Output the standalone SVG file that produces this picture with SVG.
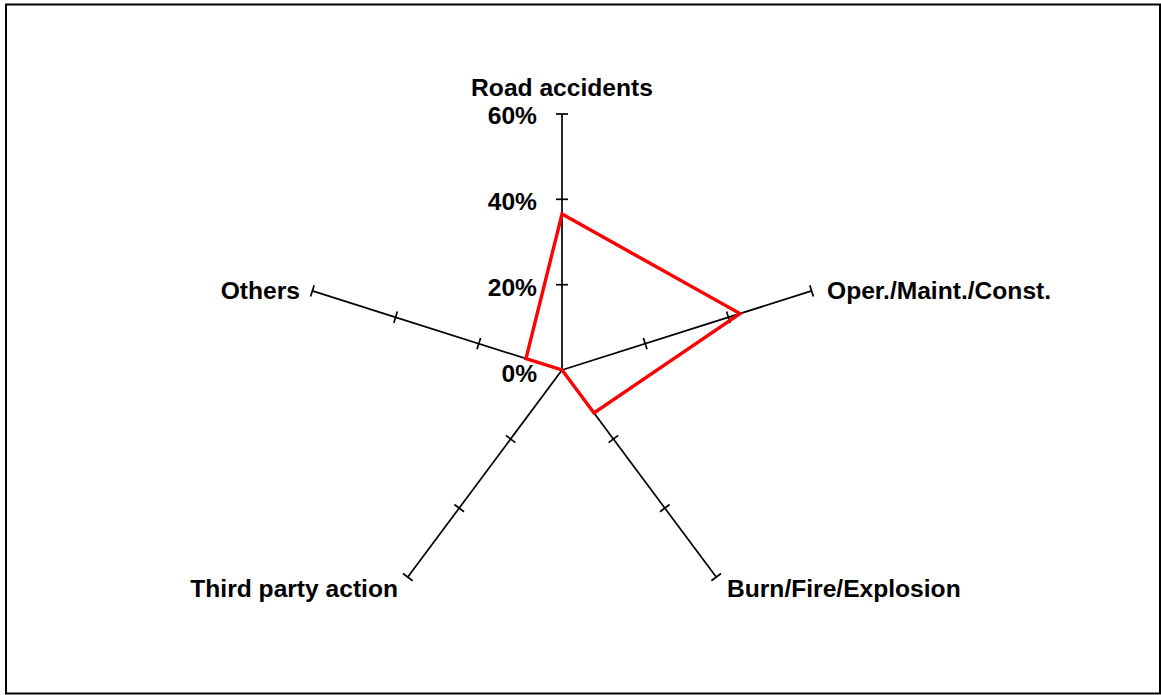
<svg xmlns="http://www.w3.org/2000/svg" width="1161" height="695" viewBox="0 0 1161 695">
<style>
.ax{stroke:#000;stroke-width:1.7;fill:none}
.lbl{font-family:"Liberation Sans",Arial,sans-serif;font-weight:bold;font-size:24.6px;fill:#000}
.pct{font-family:"Liberation Sans",Arial,sans-serif;font-weight:bold;font-size:24.6px;fill:#000;text-anchor:end}
</style>
<rect x="0" y="0" width="1161" height="695" fill="#fff"/>
<rect x="6" y="4.5" width="1154" height="689" fill="none" stroke="#000" stroke-width="2"/>
<g id="connectors">
  <g id="axes" class="ax">
    <line x1="562" y1="370" x2="562" y2="114"/>
    <line x1="556" y1="114" x2="568" y2="114"/>
    <line x1="556" y1="199.3" x2="568" y2="199.3"/>
    <line x1="556" y1="284.7" x2="568" y2="284.7"/>
    <line x1="562" y1="370" x2="811.6" y2="290.9"/>
    <line x1="643.4" y1="337.9" x2="647" y2="349.3"/>
    <line x1="726.6" y1="311.6" x2="730.2" y2="323"/>
    <line x1="809.8" y1="285.2" x2="813.4" y2="296.6"/>
    <line x1="562" y1="370" x2="312.4" y2="290.9"/>
    <line x1="480.6" y1="337.9" x2="477" y2="349.3"/>
    <line x1="397.4" y1="311.6" x2="393.8" y2="323"/>
    <line x1="314.2" y1="285.2" x2="310.6" y2="296.6"/>
    <line x1="562" y1="370" x2="716.2" y2="577.1"/>
    <line x1="608.6" y1="442.6" x2="618.2" y2="435.4"/>
    <line x1="660" y1="511.7" x2="669.6" y2="504.5"/>
    <line x1="711.4" y1="580.7" x2="721" y2="573.5"/>
    <line x1="562" y1="370" x2="407.8" y2="577.1"/>
    <line x1="515.4" y1="442.6" x2="505.8" y2="435.4"/>
    <line x1="464" y1="511.7" x2="454.4" y2="504.5"/>
    <line x1="412.6" y1="580.7" x2="403" y2="573.5"/>
  </g>
  <polygon id="series" points="562,214 740,313.6 594,413 562,370 526,358.6" fill="none" stroke="#f00" stroke-width="3.4" stroke-linejoin="miter"/>
</g>
<g id="scale">
  <text class="pct" x="537" y="124">60%</text>
  <text class="pct" x="537" y="210">40%</text>
  <text class="pct" x="537" y="296">20%</text>
  <text class="pct" x="537" y="382">0%</text>
</g>
<g id="node-road"><text class="lbl" x="562" y="96" text-anchor="middle">Road accidents</text></g>
<g id="node-oper"><text class="lbl" x="827" y="299">Oper./Maint./Const.</text></g>
<g id="node-burn"><text class="lbl" x="727" y="597">Burn/Fire/Explosion</text></g>
<g id="node-third"><text class="lbl" x="398" y="597" text-anchor="end">Third party action</text></g>
<g id="node-others"><text class="lbl" x="300" y="299" text-anchor="end">Others</text></g>
</svg>
